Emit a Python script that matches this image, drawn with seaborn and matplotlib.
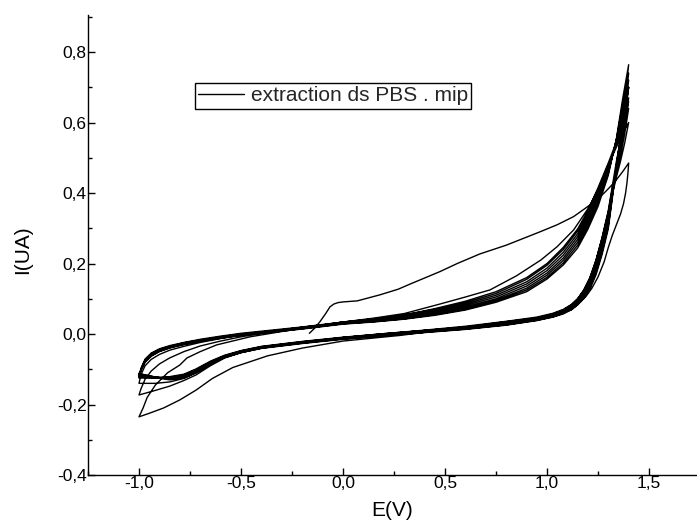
import numpy as np
import pandas as pd
import matplotlib
matplotlib.use("Agg")
import matplotlib.pyplot as plt
from matplotlib.ticker import MultipleLocator, FuncFormatter
import seaborn as sns

# ---------------- data ----------------
legend_label = "extraction ds PBS . mip"
x_label = "E(V)"
y_label = "I(UA)"

# potential grids (V)
E_fwd = [-1.00, -0.99, -0.97, -0.94, -0.90, -0.85, -0.78, -0.70, -0.60, -0.50,
         -0.40, -0.30, -0.20, -0.10, 0.00, 0.15, 0.30, 0.45, 0.60, 0.75,
         0.90, 1.00, 1.08, 1.15, 1.20, 1.25, 1.30, 1.34, 1.37, 1.40]
E_rev = [1.40, 1.38, 1.36, 1.34, 1.32, 1.30, 1.27, 1.24, 1.21, 1.18,
         1.15, 1.12, 1.08, 1.03, 0.95, 0.80, 0.60, 0.40, 0.20, 0.00,
         -0.20, -0.40, -0.50, -0.58, -0.65, -0.72, -0.78, -0.85, -0.92, -1.00]

# cycle 1 (starts at the open-circuit potential)
c1_fwd_E = [-0.165, -0.14, -0.113, -0.085, -0.064, -0.045, -0.025, 0.00, 0.07, 0.18,
            0.27, 0.33, 0.40, 0.475, 0.56, 0.67, 0.80, 0.966, 1.05, 1.13,
            1.225, 1.28, 1.33, 1.37, 1.40]
c1_fwd_I = [0.002, 0.016, 0.035, 0.058, 0.077, 0.085, 0.089, 0.091, 0.094, 0.111,
            0.127, 0.142, 0.159, 0.177, 0.200, 0.227, 0.252, 0.290, 0.310, 0.333,
            0.372, 0.400, 0.430, 0.460, 0.485]
c1_rev_E = [1.40, 1.397, 1.392, 1.385, 1.375, 1.36, 1.34, 1.32, 1.30, 1.28,
            1.25, 1.22, 1.19, 1.15, 1.12, 1.06, 1.00, 0.80, 0.50, 0.28,
            0.00, -0.20, -0.37, -0.54, -0.64, -0.72, -0.80, -0.88, -0.95, -1.00]
c1_rev_I = [0.485, 0.460, 0.430, 0.400, 0.370, 0.340, 0.310, 0.280, 0.245, 0.205,
            0.162, 0.130, 0.106, 0.083, 0.069, 0.056, 0.049, 0.035, 0.012, -0.004,
            -0.020, -0.040, -0.062, -0.095, -0.126, -0.159, -0.187, -0.210, -0.225, -0.235]

# cycle 2
c2_fwd_E = [-1.00, -0.98, -0.96, -0.92, -0.86, -0.80, -0.765, -0.70, -0.62, -0.456,
            -0.29, -0.16, 0.00, 0.15, 0.30, 0.475, 0.60, 0.72, 0.85, 0.97,
            1.05, 1.13, 1.20, 1.26, 1.31, 1.35, 1.38, 1.40]
c2_fwd_I = [-0.235, -0.210, -0.180, -0.145, -0.110, -0.088, -0.068, -0.050, -0.031, -0.008,
            0.008, 0.020, 0.034, 0.045, 0.058, 0.085, 0.105, 0.125, 0.165, 0.210,
            0.248, 0.295, 0.355, 0.420, 0.490, 0.560, 0.630, 0.700]
c2_rev_I = [0.700, 0.620, 0.550, 0.490, 0.420, 0.350, 0.275, 0.210, 0.160, 0.125,
            0.100, 0.084, 0.070, 0.059, 0.048, 0.036, 0.022, 0.011, 0.001, -0.010,
            -0.024, -0.040, -0.053, -0.068, -0.090, -0.116, -0.132, -0.148, -0.160, -0.173]

# cycle 3
c3_fwd_I = [-0.173, -0.155, -0.128, -0.105, -0.085, -0.068, -0.050, -0.034, -0.020, -0.008,
            0.002, 0.010, 0.017, 0.024, 0.032, 0.041, 0.054, 0.072, 0.093, 0.120,
            0.160, 0.200, 0.246, 0.298, 0.350, 0.415, 0.485, 0.545, 0.600, 0.660]
c3_rev_I = [0.660, 0.585, 0.522, 0.470, 0.412, 0.345, 0.272, 0.208, 0.158, 0.123,
            0.099, 0.082, 0.068, 0.057, 0.046, 0.033, 0.020, 0.010, 0.000, -0.011,
            -0.024, -0.039, -0.051, -0.066, -0.086, -0.110, -0.126, -0.136, -0.140, -0.140]

# cycles 4-10 (the dense band)
c4_fwd_I = [-0.140, -0.115, -0.090, -0.072, -0.058, -0.046, -0.035, -0.024, -0.013, -0.003,
            0.005, 0.012, 0.019, 0.026, 0.034, 0.043, 0.054, 0.070, 0.089, 0.115,
            0.155, 0.195, 0.240, 0.292, 0.345, 0.410, 0.480, 0.530, 0.570, 0.600]
c4_rev_I = [0.600, 0.540, 0.490, 0.445, 0.395, 0.340, 0.270, 0.208, 0.158, 0.124,
            0.100, 0.083, 0.068, 0.057, 0.045, 0.031, 0.019, 0.010, 0.001, -0.009,
            -0.021, -0.035, -0.047, -0.060, -0.077, -0.099, -0.114, -0.121, -0.125, -0.125]
c5_fwd_I = [-0.125, -0.097, -0.071, -0.054, -0.042, -0.033, -0.024, -0.015, -0.006, 0.002,
            0.008, 0.014, 0.020, 0.027, 0.034, 0.041, 0.052, 0.067, 0.085, 0.110,
            0.148, 0.187, 0.232, 0.284, 0.337, 0.402, 0.476, 0.537, 0.590, 0.640]
c5_rev_I = [0.640, 0.565, 0.505, 0.455, 0.400, 0.335, 0.263, 0.200, 0.152, 0.119,
            0.096, 0.080, 0.066, 0.055, 0.044, 0.030, 0.018, 0.009, 0.000, -0.010,
            -0.022, -0.036, -0.048, -0.062, -0.079, -0.101, -0.116, -0.123, -0.124, -0.122]
c6_fwd_I = [-0.122, -0.099, -0.073, -0.056, -0.044, -0.035, -0.025, -0.017, -0.008, 0.000,
            0.006, 0.012, 0.019, 0.026, 0.032, 0.039, 0.049, 0.063, 0.081, 0.105,
            0.142, 0.180, 0.224, 0.276, 0.329, 0.394, 0.470, 0.542, 0.608, 0.670]
c6_rev_I = [0.670, 0.590, 0.520, 0.465, 0.400, 0.328, 0.255, 0.193, 0.146, 0.115,
            0.093, 0.077, 0.064, 0.053, 0.042, 0.029, 0.017, 0.008, -0.001, -0.011,
            -0.023, -0.037, -0.049, -0.063, -0.081, -0.103, -0.118, -0.124, -0.123, -0.120]
c7_fwd_I = [-0.120, -0.100, -0.075, -0.058, -0.046, -0.036, -0.027, -0.018, -0.009, -0.001,
            0.005, 0.011, 0.017, 0.024, 0.031, 0.038, 0.047, 0.060, 0.077, 0.100,
            0.136, 0.173, 0.216, 0.268, 0.321, 0.386, 0.465, 0.547, 0.624, 0.700]
c7_rev_I = [0.700, 0.610, 0.535, 0.472, 0.398, 0.320, 0.247, 0.186, 0.141, 0.111,
            0.090, 0.075, 0.062, 0.052, 0.041, 0.028, 0.016, 0.007, -0.002, -0.012,
            -0.024, -0.038, -0.050, -0.064, -0.083, -0.105, -0.120, -0.126, -0.123, -0.117]
c8_fwd_I = [-0.117, -0.101, -0.077, -0.060, -0.048, -0.038, -0.028, -0.019, -0.010, -0.002,
            0.004, 0.010, 0.016, 0.023, 0.030, 0.036, 0.045, 0.057, 0.073, 0.096,
            0.130, 0.167, 0.209, 0.260, 0.313, 0.378, 0.460, 0.550, 0.636, 0.720]
c8_rev_I = [0.720, 0.625, 0.545, 0.476, 0.395, 0.312, 0.240, 0.180, 0.136, 0.107,
            0.087, 0.073, 0.060, 0.050, 0.040, 0.027, 0.015, 0.006, -0.003, -0.013,
            -0.025, -0.039, -0.051, -0.065, -0.084, -0.107, -0.122, -0.127, -0.122, -0.114]
c9_fwd_I = [-0.114, -0.102, -0.079, -0.062, -0.049, -0.039, -0.029, -0.020, -0.011, -0.003,
            0.003, 0.009, 0.015, 0.022, 0.029, 0.035, 0.043, 0.055, 0.070, 0.093,
            0.125, 0.161, 0.202, 0.252, 0.305, 0.370, 0.455, 0.552, 0.650, 0.740]
c9_rev_I = [0.740, 0.640, 0.553, 0.478, 0.390, 0.305, 0.233, 0.174, 0.131, 0.104,
            0.085, 0.071, 0.059, 0.049, 0.039, 0.026, 0.014, 0.005, -0.004, -0.014,
            -0.026, -0.040, -0.052, -0.066, -0.086, -0.108, -0.123, -0.128, -0.122, -0.112]
c10_fwd_I = [-0.112, -0.103, -0.080, -0.063, -0.050, -0.040, -0.030, -0.021, -0.012, -0.004,
             0.002, 0.008, 0.014, 0.021, 0.028, 0.034, 0.042, 0.053, 0.068, 0.090,
             0.120, 0.156, 0.196, 0.244, 0.297, 0.362, 0.450, 0.555, 0.665, 0.764]
c10_rev_I = [0.764, 0.655, 0.560, 0.480, 0.385, 0.298, 0.226, 0.168, 0.127, 0.101,
             0.083, 0.069, 0.057, 0.048, 0.038, 0.025, 0.013, 0.004, -0.005, -0.015,
             -0.027, -0.041, -0.053, -0.067, -0.087, -0.110, -0.125, -0.130, -0.124, -0.115]

# ---------------- assemble the continuous scan ----------------
segments = [
    (c1_fwd_E, c1_fwd_I), (c1_rev_E, c1_rev_I),
    (c2_fwd_E, c2_fwd_I), (E_rev, c2_rev_I),
    (E_fwd, c3_fwd_I), (E_rev, c3_rev_I),
    (E_fwd, c4_fwd_I), (E_rev, c4_rev_I),
    (E_fwd, c5_fwd_I), (E_rev, c5_rev_I),
    (E_fwd, c6_fwd_I), (E_rev, c6_rev_I),
    (E_fwd, c7_fwd_I), (E_rev, c7_rev_I),
    (E_fwd, c8_fwd_I), (E_rev, c8_rev_I),
    (E_fwd, c9_fwd_I), (E_rev, c9_rev_I),
    (E_fwd, c10_fwd_I), (E_rev, c10_rev_I),
]
E_all, I_all = [], []
for es, is_ in segments:
    E_all.extend(es)
    I_all.extend(is_)
df = pd.DataFrame({"E": E_all, "I": I_all})

# ---------------- plot ----------------
sns.set_theme(style="ticks")
plt.rcParams["font.family"] = ["Liberation Sans", "DejaVu Sans"]

W, H = 697, 524
fig = plt.figure(figsize=(W / 100, H / 100), dpi=100)
ax = fig.add_axes([88 / W, 1 - 475 / H, (W - 88) / W, (475 - 15) / H])

sns.lineplot(data=df, x="E", y="I", sort=False, estimator=None, ax=ax,
             color="black", linewidth=1.0, label=legend_label)

ax.set_xlim(-1.25, 1.735)
ax.set_ylim(-0.4, 0.905)

for s in ["top", "right"]:
    ax.spines[s].set_visible(False)
for s in ["left", "bottom"]:
    ax.spines[s].set_linewidth(1.0)
    ax.spines[s].set_color("black")

ax.xaxis.set_major_locator(MultipleLocator(0.5))
ax.xaxis.set_minor_locator(MultipleLocator(0.25))
ax.yaxis.set_major_locator(MultipleLocator(0.2))
ax.yaxis.set_minor_locator(MultipleLocator(0.1))
fmt = FuncFormatter(lambda v, p: f"{v:.1f}".replace(".", ",").replace("-0,0", "0,0"))
ax.xaxis.set_major_formatter(fmt)
ax.yaxis.set_major_formatter(fmt)
ax.tick_params(which="major", direction="in", length=5, width=1.0, color="black",
               labelsize=12.5, labelcolor="black")
ax.tick_params(which="minor", direction="in", length=3, width=1.0, color="black")
ax.tick_params(axis="y", which="major", pad=1)
ax.tick_params(axis="x", which="major", pad=1)

ax.set_xlabel(x_label, fontsize=15, color="black")
ax.set_ylabel(y_label, fontsize=15, color="black")
ax.xaxis.set_label_coords(0.5, -0.0565)
ax.yaxis.set_label_coords(-0.092, 0.489)

leg = ax.legend(loc="center", bbox_to_anchor=(0.402, 0.824), fontsize=15,
                frameon=True, fancybox=False, shadow=False, handlelength=2.2,
                handletextpad=0.35, borderpad=0.15, borderaxespad=0)
leg.get_frame().set_edgecolor("black")
leg.get_frame().set_linewidth(1.0)
leg.get_frame().set_alpha(1.0)

fig.savefig("out.png", dpi=100)
